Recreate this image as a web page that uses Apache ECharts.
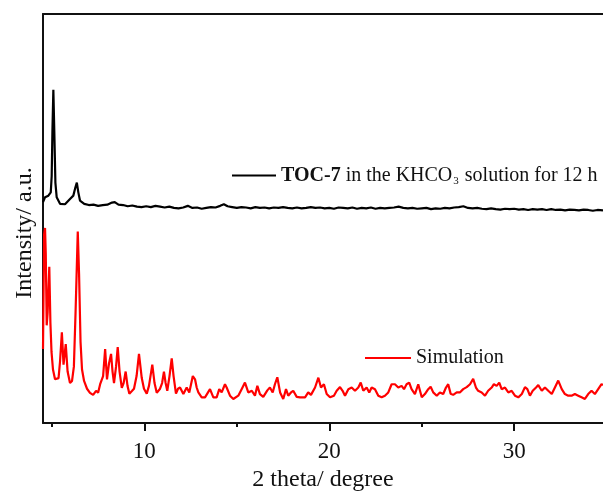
<!DOCTYPE html>
<html>
<head>
<meta charset="utf-8">
<script src="https://cdn.jsdelivr.net/npm/echarts@6/dist/echarts.min.js"></script>
<style>
html,body{margin:0;padding:0;background:#fff;}
#chart{width:603px;height:497px;}
</style>
</head>
<body>
<div id="chart"></div>
<script>
// ---- data ----
var expName = 'TOC-7 in the KHCO3 solution for 12 h';
var simName = 'Simulation';

var expTheta = [4.52,4.63,4.81,4.94,4.99,5.03,5.08,5.13,5.19,5.26,5.44,5.71,5.98,6.16,6.27,6.35,6.43,6.52,
 6.75,7.0,7.25,7.5,7.75,8.0,8.25,8.4,8.6,8.85,9.1,9.35,9.6,9.85,10.1,10.35,10.6,10.85,11.1,11.35,11.6,11.85,
 12.1,12.35,12.6,12.85,13.1,13.35,13.6,13.85,14.1,14.3,14.5,14.75,15.0,15.25,15.5,15.75,16.0,16.25,16.5,16.75,
 17.0,17.25,17.5,17.75,18.0,18.25,18.5,18.75,19.0,19.25,19.5,19.75,20.0,20.25,20.5,20.75,21.0,21.25,21.5,21.75,
 22.0,22.25,22.5,22.75,23.0,23.25,23.5,23.75,24.0,24.25,24.5,24.75,25.0,25.25,25.5,25.75,26.0,26.25,26.5,26.75,
 27.0,27.25,27.5,27.75,28.0,28.25,28.5,28.75,29.0,29.25,29.5,29.75,30.0,30.25,30.5,30.75,31.0,31.25,31.5,31.75,
 32.0,32.25,32.5,32.75,33.0,33.25,33.5,33.75,34.0,34.25,34.5,34.8];
var expIntensity = [54.0,55.2,55.6,56.4,60.4,71.6,81.5,71.6,58.8,55.2,53.6,53.5,54.8,55.6,57.6,58.8,56.4,54.4,
 53.6,53.3,53.4,53.1,53.3,53.4,53.9,54.0,53.4,53.3,53.0,53.2,52.9,52.8,53.0,52.8,53.1,52.9,52.7,52.9,52.6,52.5,
 52.7,53.1,52.6,52.7,52.4,52.6,52.8,52.7,53.1,53.5,53.0,52.8,52.6,52.8,52.7,52.5,52.8,52.6,52.7,52.5,
 52.7,52.6,52.8,52.6,52.5,52.7,52.5,52.6,52.8,52.6,52.7,52.5,52.6,52.4,52.7,52.6,52.5,52.7,52.4,52.6,
 52.5,52.7,52.4,52.6,52.5,52.6,52.7,52.9,52.6,52.5,52.6,52.4,52.5,52.6,52.3,52.5,52.4,52.6,52.5,52.7,
 52.8,53.0,52.6,52.5,52.6,52.4,52.3,52.5,52.3,52.2,52.4,52.3,52.4,52.2,52.3,52.1,52.3,52.2,52.3,52.1,
 52.3,52.1,52.2,52.0,52.2,52.1,52.0,52.2,52.1,51.9,52.1,52.0];

var simTheta = [4.52,4.58,4.63,4.67,4.72,4.77,4.86,4.92,4.98,5.06,5.17,5.26,5.36,5.44,5.54,5.63,5.75,5.85,5.98,6.09,
 6.19,6.28,6.40,6.47,6.55,6.63,6.74,6.90,7.06,7.23,7.39,7.50,7.61,7.69,7.77,7.88,7.98,8.09,8.20,8.28,
 8.36,8.47,8.56,8.66,8.78,8.88,8.99,9.09,9.19,9.34,9.44,9.58,9.71,9.86,9.98,10.13,10.25,10.43,10.55,10.67,
 10.85,10.96,11.06,11.15,11.24,11.36,11.48,11.58,11.71,11.82,11.93,12.11,12.29,12.43,12.62,12.74,12.83,12.92,13.10,13.28,
 13.55,13.73,13.91,14.05,14.18,14.36,14.45,14.63,14.81,15.08,15.26,15.44,15.62,15.81,15.98,16.11,16.25,16.43,16.65,16.79,
 16.94,17.06,17.19,17.34,17.51,17.66,17.78,17.93,18.05,18.24,18.42,18.69,18.86,19.01,19.23,19.41,19.55,19.71,19.86,20.04,
 20.25,20.40,20.58,20.72,20.85,21.03,21.21,21.39,21.57,21.70,21.84,22.02,22.16,22.29,22.47,22.65,22.83,23.01,23.19,23.37,
 23.55,23.73,23.91,24.04,24.18,24.32,24.45,24.63,24.81,25.00,25.17,25.35,25.48,25.62,25.81,25.98,26.16,26.31,26.43,26.56,
 26.70,26.89,27.06,27.24,27.43,27.61,27.78,27.93,28.05,28.24,28.42,28.59,28.78,28.90,29.05,29.19,29.32,29.50,29.68,29.86,
 30.04,30.22,30.41,30.58,30.71,30.85,31.00,31.18,31.30,31.49,31.66,31.84,32.03,32.20,32.38,32.57,32.74,32.92,33.10,33.28,
 33.46,33.64,33.82,34.00,34.18,34.36,34.54,34.72,34.80];
var simIntensity = [18.1,46.1,47.7,41.3,23.9,27.0,38.2,24.6,17.4,13.1,10.7,10.3,11.0,15.0,22.2,14.3,19.3,12.6,9.8,10.3,
 13.8,27.0,46.8,36.5,19.8,13.1,10.3,8.4,7.4,6.9,7.9,7.4,9.5,9.1,11.5,18.1,10.7,14.6,16.9,12.6,
 9.8,13.8,18.6,12.6,8.6,9.8,12.6,9.1,7.2,7.9,8.4,11.5,16.9,11.0,8.4,7.2,9.1,14.3,9.8,7.4,
 8.4,9.8,12.6,9.8,7.9,11.5,15.8,11.5,7.2,8.4,8.7,7.1,8.7,7.5,11.5,10.7,8.7,7.5,6.3,6.3,
 8.3,6.3,6.3,8.3,7.5,9.5,8.7,6.7,5.9,6.7,8.3,9.9,7.5,7.9,6.7,9.1,7.1,6.4,8.0,8.7,
 7.5,9.5,11.2,7.5,5.9,8.3,6.7,7.5,7.9,6.4,6.3,6.3,7.5,6.9,8.7,11.1,8.7,9.5,7.1,6.3,
 6.7,7.9,8.8,7.9,6.7,8.3,8.7,7.9,8.7,9.9,7.9,8.7,7.5,8.7,8.3,6.7,6.3,6.7,7.5,9.5,
 9.5,8.7,9.1,8.3,9.5,9.9,8.3,7.1,9.5,6.3,7.1,8.3,8.9,7.5,6.7,7.5,7.1,8.7,9.5,7.2,
 6.9,7.5,7.5,8.3,8.8,9.5,10.8,8.7,7.9,7.5,6.7,7.9,8.7,9.5,9.1,9.9,8.3,8.7,7.5,7.9,
 6.7,6.3,7.1,8.8,8.3,6.7,7.9,8.7,9.3,7.9,8.7,7.9,7.1,8.7,10.4,8.3,7.1,6.7,6.7,7.1,
 6.7,6.3,5.9,7.1,7.9,7.1,8.3,9.5,9.3];

var majorTicks = [10, 20, 30];
var minorTicks = [5, 15, 25];

// ---- chart ----
function zip(xs, ys) { return xs.map(function (x, i) { return [x, ys[i]]; }); }

var FONT = "'Liberation Serif', 'Times New Roman', serif";
var AX = '#111';
var chart = echarts.init(document.getElementById('chart'), null, {renderer: 'canvas'});

var xBase = {
  type: 'value', min: 4.52, max: 34.8, splitLine: {show: false}, gridIndex: 0
};

chart.setOption({
  animation: false,
  backgroundColor: '#fff',
  grid: {left: 43, top: 14, right: 0, bottom: 64, containLabel: false},
  legend: [
    {
      data: [{name: expName, icon: 'rect'}], left: 232, top: 165.5, padding: 0, itemWidth: 44, itemHeight: 2,
      itemGap: 0,
      textStyle: {
        fontFamily: FONT, fontSize: 20, color: '#111',
        rich: {
          b: {fontFamily: FONT, fontSize: 20, fontWeight: 'bold', color: '#111'},
          r: {fontFamily: FONT, fontSize: 20, color: '#111'},
          s: {fontFamily: FONT, fontSize: 11, color: '#111', verticalAlign: 'bottom', padding: [12, 1, 0, 1]}
        }
      },
      formatter: function () { return '{b|TOC-7}{r| in the KHCO}{s|3}{r| solution for 12 h}'; }
    },
    {
      data: [{name: simName, icon: 'rect'}], left: 365, top: 348, padding: 0, itemWidth: 46, itemHeight: 2,
      textStyle: {fontFamily: FONT, fontSize: 20, color: '#111'}
    }
  ],
  graphic: [{
    type: 'text', x: 25, y: 233, rotation: Math.PI / 2,
    style: {text: 'Intensity/ a.u.', font: '24px ' + FONT, fill: '#111', align: 'center', verticalAlign: 'middle'}
  }],
  xAxis: [
    Object.assign({}, xBase, {
      position: 'bottom',
      name: '2 theta/ degree', nameLocation: 'middle', nameGap: 41,
      nameTextStyle: {fontFamily: FONT, fontSize: 24, color: '#111'},
      axisLine: {show: true, lineStyle: {color: AX, width: 2}},
      axisTick: {show: true, inside: false, length: 8, lineStyle: {color: AX, width: 2}, customValues: majorTicks},
      axisLabel: {show: true, margin: 17, fontFamily: FONT, fontSize: 23, color: '#111', customValues: majorTicks}
    }),
    Object.assign({}, xBase, {
      position: 'bottom',
      axisLine: {show: false},
      axisTick: {show: true, inside: false, length: 4, lineStyle: {color: AX, width: 2}, customValues: minorTicks},
      axisLabel: {show: false}
    }),
    Object.assign({}, xBase, {
      position: 'top',
      axisLine: {show: true, lineStyle: {color: AX, width: 2}},
      axisTick: {show: false},
      axisLabel: {show: false}
    })
  ],
  yAxis: {
    type: 'value', min: 0, max: 100,
    axisLine: {show: true, lineStyle: {color: AX, width: 2}},
    axisTick: {show: false}, axisLabel: {show: false}, splitLine: {show: false}
  },
  series: [
    {
      name: expName, type: 'line', xAxisIndex: 0, data: zip(expTheta, expIntensity),
      symbol: 'none', lineStyle: {color: '#000', width: 2.2}, itemStyle: {color: '#000'}, z: 3
    },
    {
      name: simName, type: 'line', xAxisIndex: 0, data: zip(simTheta, simIntensity),
      symbol: 'none', lineStyle: {color: '#ff0000', width: 2.2}, itemStyle: {color: '#ff0000'}, z: 2
    }
  ]
});
</script>
</body>
</html>
